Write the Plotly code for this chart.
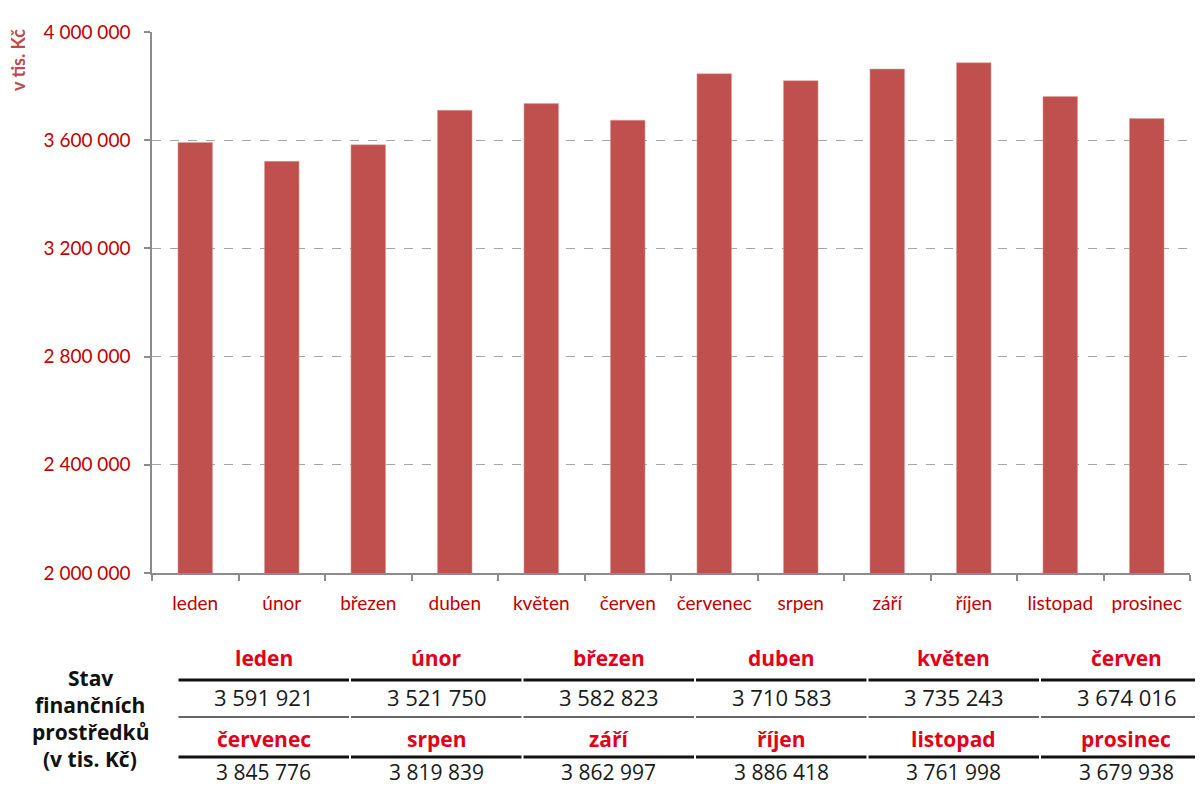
import plotly.graph_objects as go

months = ["leden", "únor", "březen", "duben", "květen", "červen",
          "červenec", "srpen", "září", "říjen", "listopad", "prosinec"]
values = [3591921, 3521750, 3582823, 3710583, 3735243, 3674016,
          3845776, 3819839, 3862997, 3886418, 3761998, 3679938]
y_ticks = [2000000, 2400000, 2800000, 3200000, 3600000, 4000000]
y_range = [2000000, 4000000]
y_title = "v tis. Kč"
row_label = ["Stav", "finančních", "prostředků", "(v tis. Kč)"]


def fmt(v):
    return f"{v:,}".replace(",", " ")


# page offset (body margin) of 8px
OFF = 8
W, H = 1203 - OFF, 787 - OFF
L, R, T, B = 152, 1190, 32, 573
PW, PH = R - L, B - T


def px(x):
    return (x - L) / PW


def py(y):
    return (B - y) / PH


RED_AX = "#C00000"
RED_T = "#E2001A"
BAR = "#C0504D"
FONT = "Lato"
TFONT = "Open Sans"

fig = go.Figure()
fig.add_trace(go.Bar(x=months, y=values, marker=dict(color=BAR, line=dict(color="#D9A09E", width=0.5)),
                     width=0.4, hoverinfo="x+y"))

fig.update_layout(
    width=W, height=H,
    margin=dict(l=L - OFF, r=1203 - R, t=T - OFF, b=787 - B, pad=0),
    paper_bgcolor="white", plot_bgcolor="white",
    showlegend=False,
    font=dict(family=FONT),
    xaxis=dict(showline=True, linecolor="#8C8C8C", linewidth=1.5, ticks="outside",
               tickson="boundaries", ticklen=6, tickcolor="#8C8C8C", tickwidth=1.5,
               ticklabelstandoff=12,
               tickfont=dict(color=RED_AX, size=19, family=FONT), showgrid=False),
    yaxis=dict(range=y_range, tickvals=y_ticks, ticktext=[fmt(v) for v in y_ticks],
               showline=True, linecolor="#8C8C8C", linewidth=1.5, ticks="outside",
               ticklen=6, tickcolor="#8C8C8C", tickwidth=1.5, ticklabelstandoff=10,
               tickfont=dict(color=RED_AX, size=19, family=FONT),
               showgrid=True, gridcolor="#A6A6A6", griddash="dash", gridwidth=1,
               zeroline=False),
)

annotations = []
shapes = []
annotations.append(dict(text=f"<b>{y_title}</b>", x=px(18), y=py(60), xref="paper", yref="paper",
                        textangle=-90, showarrow=False, font=dict(color="#BE4B48", size=18, family=FONT),
                        xanchor="center", yanchor="middle"))

# table
col_w = 172.5
x0 = 177.5
rows = [(months[:6], values[:6], 658, 697, 21, 680, 717),
        (months[6:], values[6:], 739, 772, 21, 757, None)]
for ms, vs, yh, yv, vsize, yline1, yline2 in rows:
    for i, (m, v) in enumerate(zip(ms, vs)):
        cx = x0 + col_w * (i + 0.5)
        annotations.append(dict(text=f"<b>{m}</b>", x=px(cx), y=py(yh), xref="paper", yref="paper",
                                showarrow=False, font=dict(color=RED_T, size=21, family=TFONT),
                                xanchor="center", yanchor="middle"))
        annotations.append(dict(text=fmt(v), x=px(cx), y=py(yv), xref="paper", yref="paper",
                                showarrow=False, borderpad=0,
                                font=dict(color="#1A1A1A", size=22 if yline2 else vsize, family=TFONT),
                                xanchor="center", yanchor="middle"))
        xa, xb = x0 + col_w * i + 1, x0 + col_w * (i + 1) - 1
        shapes.append(dict(type="line", xref="paper", yref="paper", x0=px(xa), x1=px(xb),
                           y0=py(yline1), y1=py(yline1), line=dict(color="#111111", width=3)))
        if yline2 is not None:
            shapes.append(dict(type="line", xref="paper", yref="paper", x0=px(xa), x1=px(xb),
                               y0=py(yline2), y1=py(yline2), line=dict(color="#333333", width=1.5)))

for j, line in enumerate(row_label):
    annotations.append(dict(text=f"<b>{line}</b>", x=px(90), y=py(678 + 27 * j), xref="paper", yref="paper",
                            showarrow=False, font=dict(color="#111111", size=21, family=TFONT),
                            xanchor="center", yanchor="middle"))

fig.update_layout(annotations=annotations, shapes=shapes)
fig.write_html("out.html")
